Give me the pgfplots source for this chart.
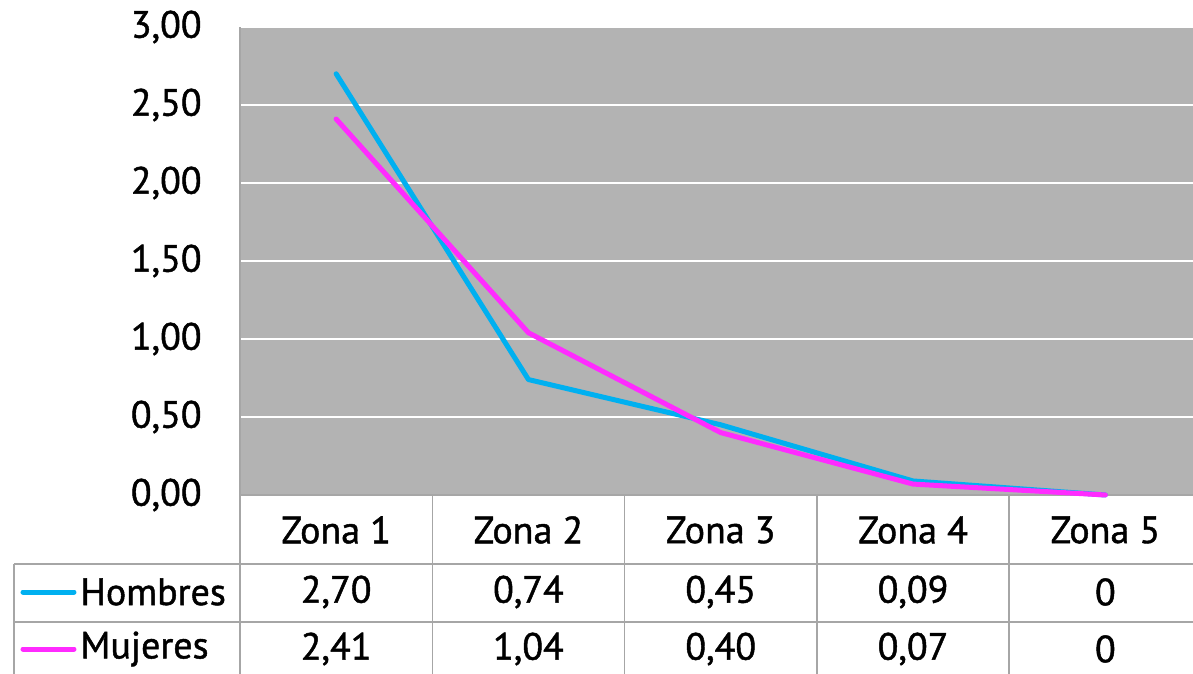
\documentclass[border=0pt]{standalone}
\usepackage{pgfplots}
\pgfplotsset{compat=1.18}
\usepackage{fontspec}
\setmainfont{PT Sans}[FakeBold=1.2]
\definecolor{bg}{HTML}{B3B3B3}
\definecolor{tl}{HTML}{A6A6A6}
\definecolor{hom}{HTML}{00B0F0}
\definecolor{muj}{HTML}{FF2BFF}
\begin{document}
\begin{tikzpicture}
\newcommand{\tf}{\fontsize{19}{21}\selectfont}
\begin{axis}[
  at={(0,0)}, anchor=south west,
  scale only axis, width=480.75pt, height=234pt,
  xmin=0.5, xmax=5.5, ymin=0, ymax=3,
  xtick=\empty,
  ytick={0,0.5,1,1.5,2,2.5,3},
  major tick length=0pt,
  axis lines*=left,
  axis line style={tl, line width=0.8pt, -},
  axis background/.style={fill=bg},
  ymajorgrids, grid style={white, line width=0.9pt},
  yticklabel style={font=\tf, anchor=east, inner sep=0pt, xshift=-19pt},
  /pgf/number format/.cd, fixed, fixed zerofill, precision=2, use comma, assume math mode=true,
  /pgfplots/.cd, clip=false,
]
\addplot[hom, line width=2.5pt, line cap=round, line join=round] coordinates {(1,2.70) (2,0.74) (3,0.45) (4,0.09) (5,0)};
\addplot[muj, line width=2.5pt, line cap=round, line join=round] coordinates {(1,2.41) (2,1.04) (3,0.40) (4,0.07) (5,0)};
\end{axis}
% table grid
\draw[tl, line width=0.8pt] (0,0) -- (0,-100pt);
\draw[tl, line width=0.8pt] (-113pt,-34.5pt) -- (490pt,-34.5pt);
\draw[tl, line width=0.8pt] (-113pt,-63.5pt) -- (490pt,-63.5pt);
\draw[tl, line width=0.8pt] (-113pt,-34.5pt) -- (-113pt,-100pt);
\foreach \i in {1,2,3,4}{
  \draw[tl, line width=0.8pt] ({96.15pt*\i},0) -- ({96.15pt*\i},-100pt);
}
\foreach \i/\a/\b in {1/{2,70}/{2,41},2/{0,74}/{1,04},3/{0,45}/{0,40},4/{0,09}/{0,07},5/{0}/{0}}{
  \node[font=\tf, inner sep=0pt] at ({96.15pt*\i-48.075pt},-17.5pt) {Zona \i};
  \node[font=\tf, inner sep=0pt] at ({96.15pt*\i-48.075pt},-48.5pt) {\a};
  \node[font=\tf, inner sep=0pt] at ({96.15pt*\i-48.075pt},-77pt) {\b};
}
\draw[hom, line width=2.5pt, line cap=round] (-108.5pt,-48.5pt) -- (-83pt,-48.5pt);
\draw[muj, line width=2.5pt, line cap=round] (-108.5pt,-77pt) -- (-83pt,-77pt);
\node[font=\tf, inner sep=0pt, anchor=west] at (-80pt,-48.5pt) {Hombres};
\node[font=\tf, inner sep=0pt, anchor=west] at (-80pt,-77pt) {Mujeres};
\pgfresetboundingbox
\useasboundingbox (-120pt,-89.5pt) rectangle (476.5pt,247.5pt);
\end{tikzpicture}
\end{document}
